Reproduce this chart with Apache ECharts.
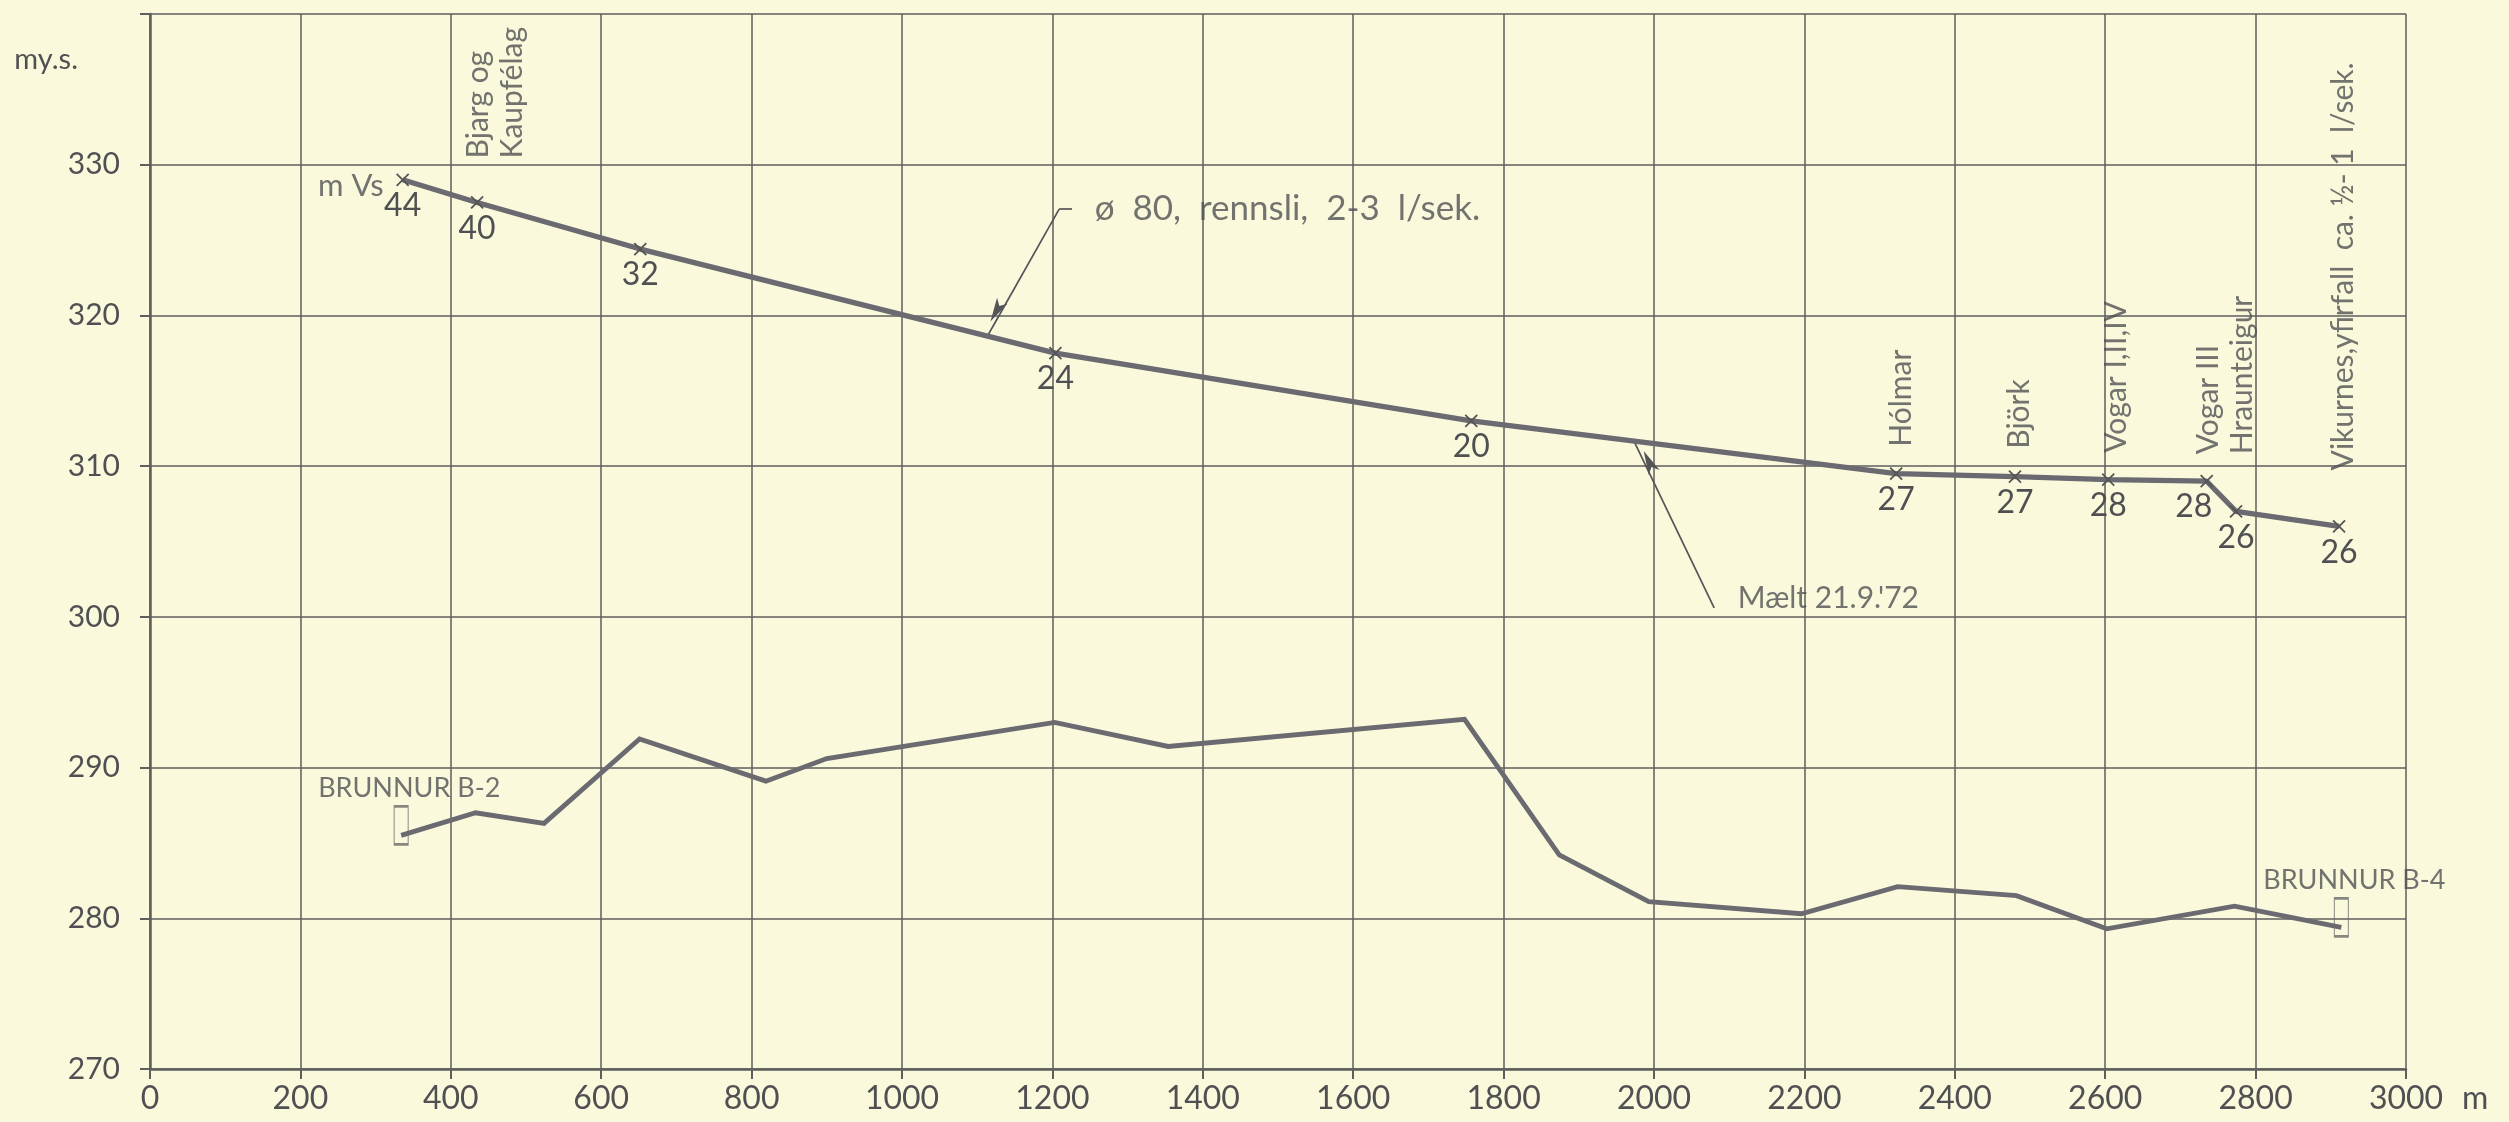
<!DOCTYPE html>
<html>
<head>
<meta charset="utf-8">
<script src="https://cdn.jsdelivr.net/npm/echarts@6/dist/echarts.min.js"></script>
<style>
html,body{margin:0;padding:0;background:#FBF9DC;}
#c{width:2509px;height:1122px;}
</style>
</head>
<body>
<div id="c"></div>
<script>
// ---------------- DATA ----------------
// Pipe pressure line (Mælt 21.9.'72): distance (m) and level (m y.s.)
const pipeX = [336, 435, 652, 1204, 1757, 2322, 2480, 2604, 2735, 2774, 2911];
const pipeY = [329.0, 327.5, 324.4, 317.5, 313.0, 309.5, 309.3, 309.1, 309.0, 307.0, 306.0];
const pipeNumbers = ['44', '40', '32', '24', '20', '27', '27', '28', '28', '26', '26'];
const stationNames = ['', 'Bjarg og\nKaupfélag', '', '', '', 'Hólmar', 'Björk', 'Vogar I,II,IV',
  'Vogar III\nHraunteigur', '', 'Vikurnes,yfirfall  ca. ½- 1  l/sek.'];
const startLabel = 'm Vs';

// Ground profile between wells B-2 and B-4
const groundX = [334, 433, 524, 651, 819, 900, 1203, 1354, 1748, 1874, 1993, 2196, 2324, 2482, 2602, 2772, 2914];
const groundY = [285.5, 287.0, 286.3, 291.9, 289.1, 290.6, 293.0, 291.4, 293.2, 284.2, 281.1, 280.3, 282.1, 281.5, 279.3, 280.8, 279.4];
const wellNames = ['BRUNNUR B-2', 'BRUNNUR B-4'];

// Axis ticks
const xTickValues = [0, 200, 400, 600, 800, 1000, 1200, 1400, 1600, 1800, 2000, 2200, 2400, 2600, 2800, 3000];
const xTickLabels = ['0', '200', '400', '600', '800', '1000', '1200', '1400', '1600', '1800', '2000', '2200', '2400', '2600', '2800', '3000'];
const yTickValues = [270, 280, 290, 300, 310, 320, 330, 340];
const yTickLabels = ['270', '280', '290', '300', '310', '320', '330', ''];
const xUnit = 'm';
const yUnit = 'my.s.';

// Annotations (text + leader with arrow), in data coordinates
const noteTexts = ['ø  80,  rennsli,  2-3  l/sek.', 'Mælt 21.9.\'72'];
const noteAnchors = [[1255, 327.1], [2110, 301.25]];
const noteLeaders = [
  [[1226, 327.05], [1209, 327.05], [1115, 318.75]],
  [[2080, 300.6], [1974, 311.6]]
];

// ---------------- STYLE ----------------
const FONT = 'Lato';
const INK = '#505053';
const LINE = '#6a6a70';
const GRID = '#5e5e5e';
const nameLayout = { 1: {gap: 43, shift: 18}, 5: {gap: 26, shift: 5}, 6: {gap: 27, shift: 4},
  7: {gap: 26, shift: 8}, 8: {gap: 26, shift: 19}, 10: {gap: 55, shift: 4} };
const numberOffset = { 8: [-13, 0] };
const wellOffset = [[-83, 0], [-78, 0]];
const noteFont = [35, 30];

// ---------------- BUILD ----------------
const xMin = xTickValues[0], xMax = xTickValues[xTickValues.length - 1];
const xStep = xTickValues[1] - xTickValues[0];
const yMin = yTickValues[0], yMax = yTickValues[yTickValues.length - 1];
const yStep = yTickValues[1] - yTickValues[0];

const pipeData = pipeX.map((x, i) => ({
  value: [x, pipeY[i]],
  label: { formatter: pipeNumbers[i], offset: numberOffset[i] || [0, 0] }
}));
const nameData = [];
stationNames.forEach((n, i) => {
  if (!n) return;
  const lay = nameLayout[i] || {gap: 26, shift: 4};
  nameData.push({ value: [pipeX[i], pipeY[i]],
    label: { formatter: n, distance: lay.gap, offset: [0, lay.shift] } });
});
const groundData = groundX.map((x, i) => [x, groundY[i]]);
const last = groundX.length - 1;
const wellData = [
  { value: [groundX[0], groundY[0]], label: { formatter: wellNames[0], offset: wellOffset[0] } },
  { value: [groundX[last], groundY[last]], label: { formatter: wellNames[1], offset: wellOffset[1] } }
];
const noteData = noteTexts.map((t, i) => ({ value: noteAnchors[i], label: { formatter: t, fontSize: noteFont[i] } }));
const leaderSegments = [];
noteLeaders.forEach(pts => {
  for (let k = 0; k < pts.length - 1; k++) {
    const isLast = k === pts.length - 2;
    leaderSegments.push([
      { coord: pts[k], symbol: 'none' },
      { coord: pts[k + 1], symbol: isLast ? 'arrow' : 'none' }
    ]);
  }
});

const crossPath = 'path://M0,0L10,10M10,0L0,10';
const txt = (size, extra) => Object.assign({ fontFamily: FONT, fontWeight: 'normal', fontSize: size, color: INK }, extra || {});

const option = {
  backgroundColor: '#FBF9DC',
  animation: false,
  textStyle: { fontFamily: FONT, fontWeight: 'normal', color: INK },
  grid: { left: 150, right: 103, top: 14, bottom: 53, outerBoundsMode: 'none', containLabel: false },
  xAxis: {
    type: 'value', min: xMin, max: xMax, interval: xStep,
    name: xUnit, nameLocation: 'end', nameGap: 56,
    nameTextStyle: txt(32, { verticalAlign: 'top', padding: [14, 0, 0, 0] }),
    axisLine: { show: true, onZero: false, lineStyle: { color: GRID, width: 2.5 } },
    axisTick: { show: true, length: 10, lineStyle: { color: GRID, width: 2 } },
    splitLine: { show: true, lineStyle: { color: GRID, width: 1.5 } },
    axisLabel: txt(32, { margin: 14, formatter: v => xTickLabels[Math.round((v - xMin) / xStep)] })
  },
  yAxis: {
    type: 'value', min: yMin, max: yMax, interval: yStep,
    name: yUnit, nameLocation: 'end', nameGap: -46,
    nameTextStyle: txt(29, { align: 'right', verticalAlign: 'middle', padding: [0, 72, 0, 0] }),
    axisLine: { show: true, onZero: false, lineStyle: { color: GRID, width: 2.5 } },
    axisTick: { show: true, length: 10, lineStyle: { color: GRID, width: 2 } },
    splitLine: { show: true, lineStyle: { color: GRID, width: 1.5 } },
    axisLabel: txt(30, { margin: 30, formatter: v => yTickLabels[Math.round((v - yMin) / yStep)] })
  },
  series: [
    {
      name: 'ground', type: 'line', data: groundData, symbol: 'none', z: 3,
      lineStyle: { color: LINE, width: 4.8, join: 'miter' }, silent: true
    },
    {
      name: 'wells', type: 'scatter', data: wellData, symbol: 'rect',
      symbolSize: [14, 38], symbolOffset: [0, -10], z: 4,
      itemStyle: { color: 'rgba(0,0,0,0)', borderColor: '#6a6a6a', borderWidth: 1.6 },
      label: Object.assign({ show: true, position: 'top', distance: 3, align: 'left' }, txt(27)),
      silent: true
    },
    {
      name: 'pipe', type: 'line', data: pipeData, symbol: crossPath, symbolSize: 12, showSymbol: true, z: 5,
      lineStyle: { color: LINE, width: 5.2 },
      itemStyle: { color: '#555', borderColor: '#555', borderWidth: 1.8 },
      label: Object.assign({ show: true, position: 'bottom', distance: 3 }, txt(32)),
      silent: true
    },
    {
      name: 'stations', type: 'scatter', data: nameData, symbol: 'circle', symbolSize: 2, z: 6,
      itemStyle: { color: 'rgba(0,0,0,0)' },
      label: Object.assign({ show: true, position: 'top', rotate: 90, align: 'left', verticalAlign: 'middle',
        lineHeight: 34 }, txt(30)),
      silent: true
    },
    {
      name: 'start', type: 'scatter', data: [{ value: [pipeX[0], pipeY[0]], label: { formatter: startLabel } }],
      symbol: 'circle', symbolSize: 2, z: 6, itemStyle: { color: 'rgba(0,0,0,0)' },
      label: Object.assign({ show: true, position: 'left', distance: 18, offset: [0, 6] }, txt(31)),
      silent: true
    },
    {
      name: 'notes', type: 'scatter', data: noteData, symbol: 'circle', symbolSize: 2, z: 6,
      itemStyle: { color: 'rgba(0,0,0,0)' },
      label: Object.assign({ show: true, position: 'right', distance: 0 }, txt(30)),
      markLine: {
        silent: true, animation: false,
        symbolSize: [9, 24], symbolOffset: [0, '50%'],
        label: { show: false },
        lineStyle: { color: '#555558', width: 1.7, type: 'solid' },
        emphasis: { disabled: true },
        data: leaderSegments
      },
      silent: true
    }
  ]
};

const chart = echarts.init(document.getElementById('c'), null, { renderer: 'canvas' });
chart.setOption(option);
</script>
</body>
</html>
